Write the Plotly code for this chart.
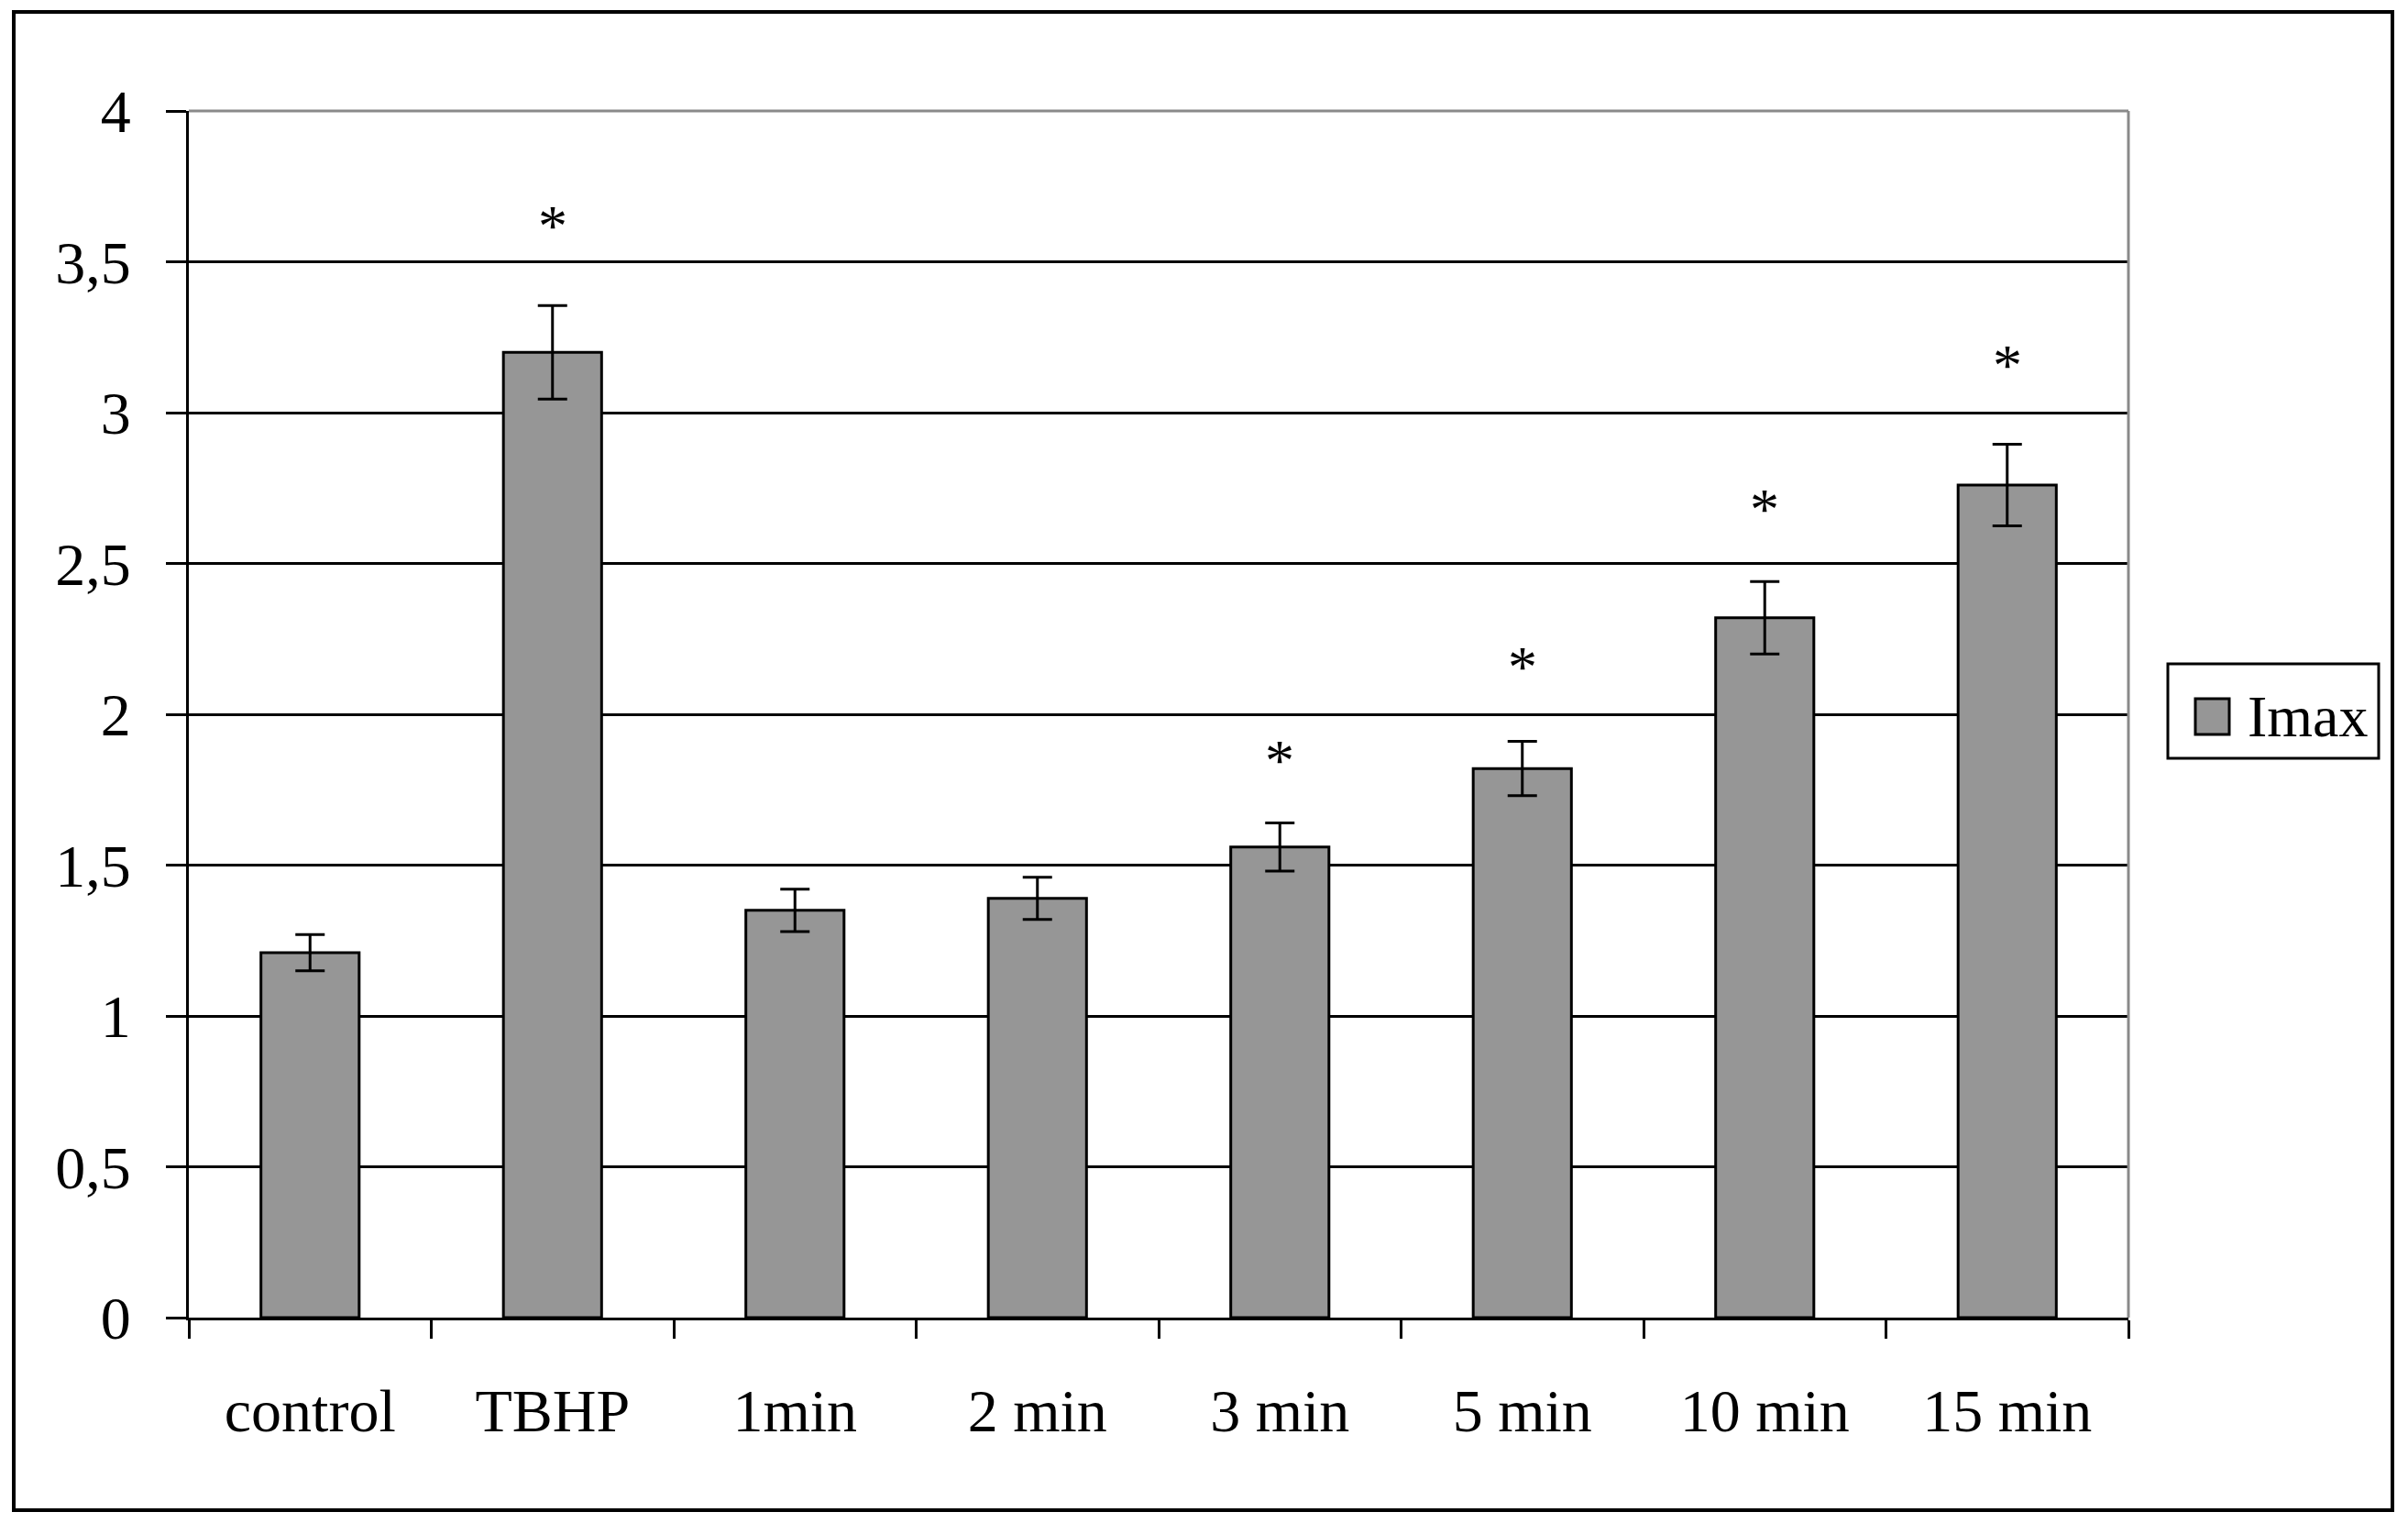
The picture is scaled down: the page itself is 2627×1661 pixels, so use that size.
import plotly.graph_objects as go

categories = ["control", "TBHP", "1min", "2 min", "3 min", "5 min", "10 min", "15 min"]
imax = [1.21, 3.20, 1.35, 1.39, 1.56, 1.82, 2.32, 2.76]
imax_err = [0.06, 0.155, 0.07, 0.07, 0.08, 0.09, 0.12, 0.135]
star_cats = ["TBHP", "3 min", "5 min", "10 min", "15 min"]
star_y = [3.63, 1.86, 2.17, 2.69, 3.17]
y_ticks = [0, 0.5, 1, 1.5, 2, 2.5, 3, 3.5, 4]
y_ticklabels = ["0", "0,5", "1", "1,5", "2", "2,5", "3", "3,5", "4"]

FONT = "Liberation Serif, Times New Roman, serif"
BAR = "#969696"
OFF = 8  # page body margin
W, H = 2611, 1645
L, T = 206 - OFF, 121 - OFF
R = W - (2322 - OFF)
B = H - (1437 - OFF)
pw, ph = W - L - R, H - T - B

def px(x):
    return (x - OFF - L) / pw

def py(y):
    return (H - B - (y - OFF)) / ph

fig = go.Figure()
fig.add_trace(go.Bar(
    x=categories, y=imax, name="Imax",
    marker=dict(color=BAR, line=dict(color="black", width=3)),
    error_y=dict(type="data", array=imax_err, color="black", thickness=3, width=16),
    showlegend=False,
))

for c, yv in zip(star_cats, star_y):
    fig.add_annotation(x=c, y=yv, text="*", showarrow=False, xref="x", yref="y",
                       font=dict(family=FONT, size=64, color="black"),
                       yanchor="middle", yshift=-4)

shapes = []
shapes.append(dict(type="line", xref="paper", yref="paper", x0=0, x1=1, y0=1, y1=1,
                   line=dict(color="#8a8a8a", width=3), layer="above"))
shapes.append(dict(type="line", xref="paper", yref="paper", x0=1, x1=1, y0=0, y1=1,
                   line=dict(color="#8a8a8a", width=3), layer="above"))
shapes.append(dict(type="rect", xref="paper", yref="paper",
                   x0=px(15), x1=px(2610), y0=py(1647), y1=py(13),
                   line=dict(color="black", width=4), fillcolor="rgba(0,0,0,0)"))
shapes.append(dict(type="rect", xref="paper", yref="paper",
                   x0=px(2365), x1=px(2595), y0=py(827), y1=py(724),
                   line=dict(color="black", width=3), fillcolor="white"))
shapes.append(dict(type="rect", xref="paper", yref="paper",
                   x0=px(2395), x1=px(2432), y0=py(801), y1=py(762),
                   line=dict(color="black", width=3), fillcolor=BAR))
fig.add_annotation(xref="paper", yref="paper", x=px(2450), y=py(781), text="Imax",
                   showarrow=False, xanchor="left", yanchor="middle",
                   font=dict(family=FONT, size=64, color="black"))

fig.update_layout(
    width=W, height=H,
    margin=dict(l=L, r=R, t=T, b=B),
    paper_bgcolor="white", plot_bgcolor="white",
    bargap=0.595,
    shapes=shapes,
    font=dict(family=FONT, size=66, color="black"),
)
fig.update_xaxes(
    type="category", showline=True, linecolor="black", linewidth=3,
    ticks="outside", tickson="boundaries", ticklen=20, tickwidth=3, tickcolor="black",
    ticklabelstandoff=42, showgrid=False,
    tickfont=dict(family=FONT, size=66, color="black"),
)
fig.update_yaxes(
    range=[0, 4], tickvals=y_ticks, ticktext=y_ticklabels,
    showline=True, linecolor="black", linewidth=3,
    ticks="outside", ticklen=22, tickwidth=3, tickcolor="black",
    ticklabelstandoff=25,
    showgrid=True, gridcolor="black", gridwidth=3, zeroline=False,
    tickfont=dict(family=FONT, size=66, color="black"),
)

fig.write_html("out.html")
